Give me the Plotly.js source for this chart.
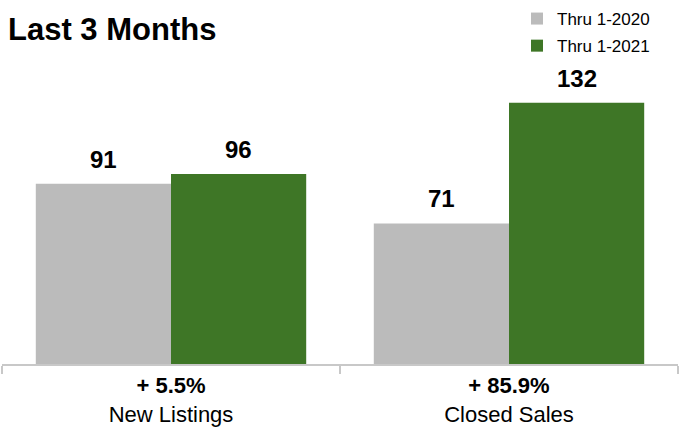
<!DOCTYPE html>
<html>
<head>
<meta charset="utf-8">
<script src="https://cdn.plot.ly/plotly-3.0.1.min.js"></script>
<style>html,body{margin:0;padding:0;background:#fff;}#chart{width:680px;height:429px;}</style>
</head>
<body>
<div id="chart"></div>
<script>
var categories = ["New Listings", "Closed Sales"];
var changes = ["+ 5.5%", "+ 85.9%"];
var seriesNames = ["Thru 1-2020", "Thru 1-2021"];
var values2020 = [91, 71];
var values2021 = [96, 132];
var colors = ["#bbbbbb", "#3e7626"];

var tickText = categories.map(function (c, i) { return "<b>" + changes[i] + "</b><br>" + c; });

var traces = [
  { type: "bar", name: seriesNames[0], x: categories, y: values2020, marker: { color: colors[0] }, hoverinfo: "none", legendgroup: "a" },
  { type: "bar", name: seriesNames[1], x: categories, y: values2021, marker: { color: colors[1] }, hoverinfo: "none", legendgroup: "b" }
];

var annotations = [];
[values2020, values2021].forEach(function (vals, s) {
  vals.forEach(function (v, i) {
    annotations.push({
      x: i + (s === 0 ? -0.2 : 0.2), y: v, xref: "x", yref: "y",
      text: "<b>" + v + "</b>", showarrow: false, yanchor: "bottom", yshift: 9,
      font: { family: "Liberation Sans, Arial, sans-serif", size: 24, color: "#000" }
    });
  });
});

var plotTop = 67, plotBottom = 364, plotLeft = 2, plotRight = 678;
var ph = plotBottom - plotTop, pw = plotRight - plotLeft;

var layout = {
  width: 680, height: 429,
  margin: { l: plotLeft, r: 680 - plotRight, t: plotTop, b: 429 - plotBottom, pad: 0, autoexpand: false },
  paper_bgcolor: "#fff", plot_bgcolor: "#fff",
  title: {
    text: "<b>Last 3 Months</b>",
    font: { family: "Liberation Sans, Arial, sans-serif", size: 31, color: "#000" },
    x: 8 / 680, xanchor: "left", xref: "container",
    y: 1 - 29 / 429, yanchor: "middle", yref: "container"
  },
  barmode: "group", bargap: 0.2, bargroupgap: 0,
  showlegend: true,
  legend: {
    x: (517 - plotLeft) / pw, xanchor: "left", xref: "paper",
    y: (plotBottom - 1) / ph, yanchor: "top", yref: "paper",
    font: { family: "Liberation Sans, Arial, sans-serif", size: 17, color: "#000" },
    traceorder: "grouped", tracegroupgap: 2, bgcolor: "rgba(0,0,0,0)"
  },
  xaxis: {
    type: "category", range: [-0.5, 1.5],
    tickvals: categories, ticktext: tickText,
    showline: true, linecolor: "#c8c8c8", linewidth: 2,
    ticks: "outside", tickson: "boundaries", ticklen: 8, tickcolor: "#c8c8c8", tickwidth: 2,
    ticklabelstandoff: 1,
    tickfont: { family: "Liberation Sans, Arial, sans-serif", size: 22, color: "#000" },
    showgrid: false, zeroline: false, fixedrange: true
  },
  yaxis: {
    range: [0, 150], visible: false, showgrid: false, zeroline: false, fixedrange: true
  },
  annotations: annotations
};

Plotly.newPlot("chart", traces, layout, { displayModeBar: false, staticPlot: true });
</script>
</body>
</html>
